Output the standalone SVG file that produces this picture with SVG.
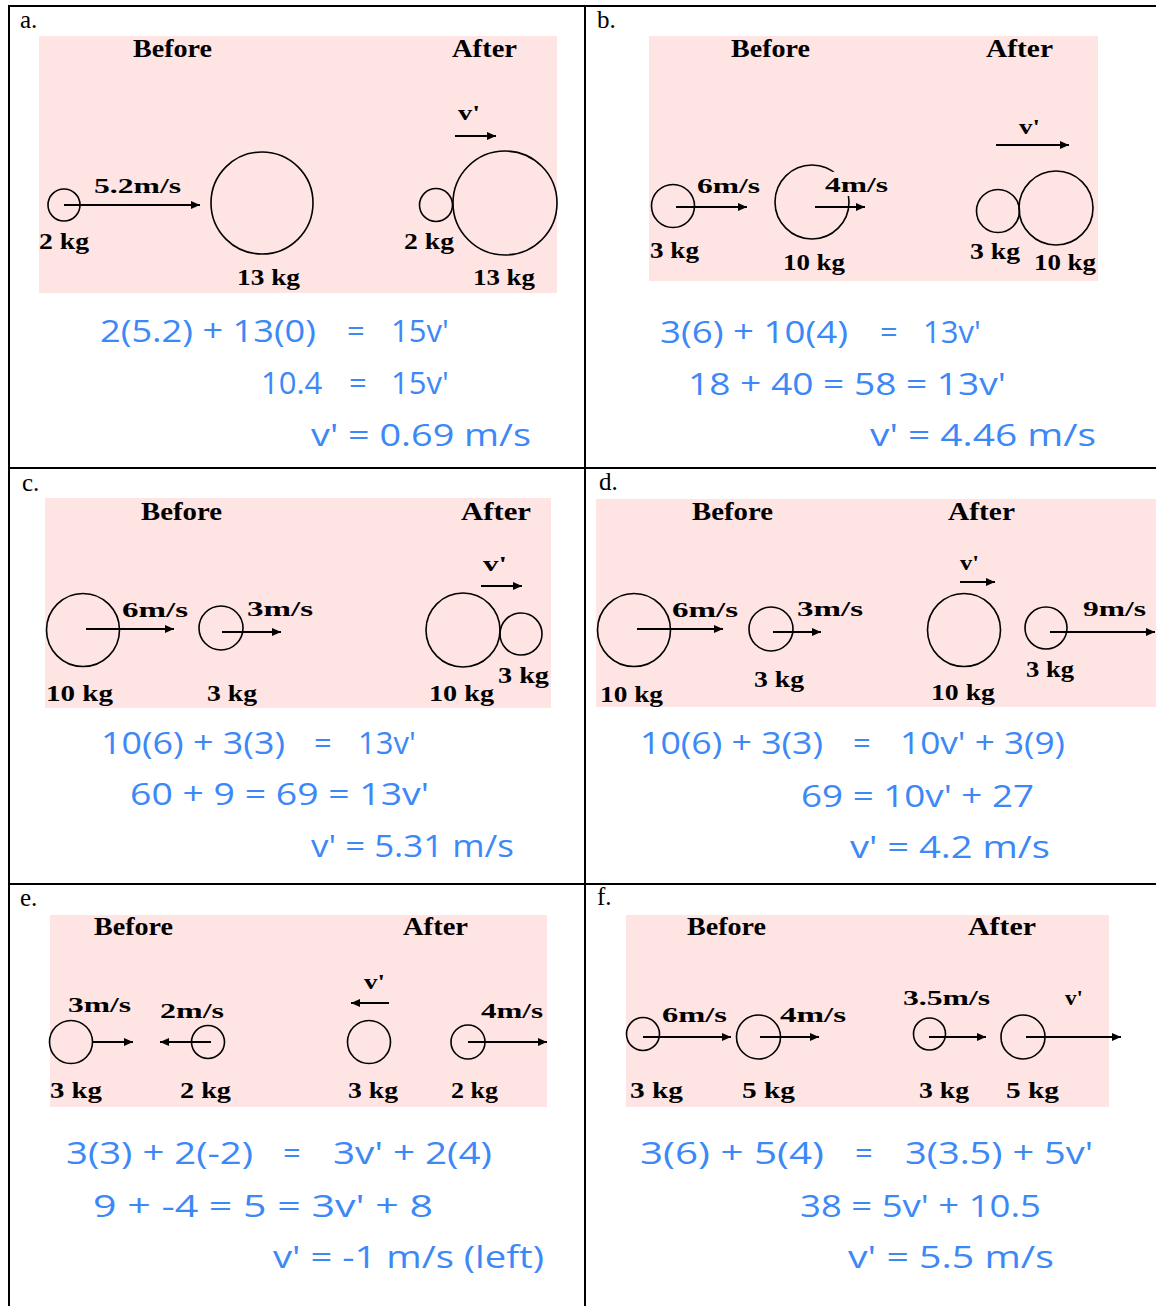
<svg xmlns="http://www.w3.org/2000/svg" width="1156" height="1306" viewBox="0 0 1156 1306">
<style>
.bg{fill:#ffe4e4}
.grid{stroke:#000;stroke-width:2;fill:none}
.ball{fill:none;stroke:#000;stroke-width:1.6}
.arr{stroke:#000;stroke-width:2;fill:none;marker-end:url(#ah)}
.lab{font-family:"Liberation Serif","DejaVu Serif",serif;font-size:25px;fill:#000}
.hd{font-family:"Liberation Serif","DejaVu Serif",serif;font-weight:bold;font-size:26px;fill:#000}
.kg{font-family:"Liberation Serif","DejaVu Serif",serif;font-weight:bold;font-size:24px;fill:#000}
.vel{font-family:"Liberation Serif","DejaVu Serif",serif;font-weight:bold;font-size:22px;fill:#000}
.eq{font-family:"Open Sans","Lato",sans-serif;font-weight:400;font-size:31px;fill:#3d88f7}
</style>
<defs>
<marker id="ah" markerWidth="10" markerHeight="10" refX="9" refY="4" orient="auto" markerUnits="userSpaceOnUse"><path d="M0,0 L9,4 L0,8 z" fill="#000"/></marker>
</defs>
<rect width="1156" height="1306" fill="#fff"/>
<g id="table" class="grid">
<line x1="9" y1="6" x2="1156" y2="6"/>
<line x1="9" y1="5" x2="9" y2="1306"/>
<line x1="585" y1="5" x2="585" y2="1306"/>
<line x1="9" y1="468" x2="1156" y2="468"/>
<line x1="9" y1="884" x2="1156" y2="884"/>
</g>

<!-- Panel a -->
<g id="panel-a">
<rect class="bg" x="39" y="36" width="518" height="257"/>
<text class="lab" x="20" y="28">a.</text>
<text class="hd" x="133" y="57" textLength="79" lengthAdjust="spacingAndGlyphs">Before</text>
<text class="hd" x="452" y="57" textLength="65" lengthAdjust="spacingAndGlyphs">After</text>
<g id="a-m1"><circle class="ball" cx="64" cy="205" r="16"/><text class="kg" x="39" y="249" textLength="50" lengthAdjust="spacingAndGlyphs">2 kg</text></g>
<g id="a-m2"><circle class="ball" cx="262" cy="203" r="51"/><text class="kg" x="237" y="285" textLength="63" lengthAdjust="spacingAndGlyphs">13 kg</text></g>
<text class="vel" x="94" y="193" textLength="87" lengthAdjust="spacingAndGlyphs">5.2m/s</text>
<g id="a-m1-after"><circle class="ball" cx="436" cy="205" r="16.5"/><text class="kg" x="404" y="249" textLength="50" lengthAdjust="spacingAndGlyphs">2 kg</text></g>
<g id="a-m2-after"><circle class="ball" cx="505" cy="203" r="52"/><text class="kg" x="473" y="285" textLength="62" lengthAdjust="spacingAndGlyphs">13 kg</text></g>
<text class="vel" x="458" y="120" textLength="22" lengthAdjust="spacingAndGlyphs">v'</text>
<g id="a-eq">
<text class="eq" x="100" y="342" textLength="216" lengthAdjust="spacingAndGlyphs">2(5.2) + 13(0)</text>
<text class="eq" x="347" y="342">=</text>
<text class="eq" x="391" y="342">15v'</text>
<text class="eq" x="261" y="394">10.4</text>
<text class="eq" x="349" y="394">=</text>
<text class="eq" x="391" y="394">15v'</text>
<text class="eq" x="311" y="446" textLength="220" lengthAdjust="spacingAndGlyphs">v' = 0.69 m/s</text>
</g>
</g>

<!-- Panel b -->
<g id="panel-b">
<rect class="bg" x="649" y="36" width="449" height="245"/>
<text class="lab" x="597" y="28">b.</text>
<text class="hd" x="731" y="57" textLength="79" lengthAdjust="spacingAndGlyphs">Before</text>
<text class="hd" x="986" y="57" textLength="67" lengthAdjust="spacingAndGlyphs">After</text>
<g id="b-m1"><circle class="ball" cx="673" cy="206" r="21.5"/><text class="kg" x="650" y="258" textLength="49" lengthAdjust="spacingAndGlyphs">3 kg</text></g>
<g id="b-m2"><circle class="ball" cx="812" cy="202" r="37"/><text class="kg" x="783" y="270" textLength="62" lengthAdjust="spacingAndGlyphs">10 kg</text></g>
<text class="vel" x="697" y="193" textLength="63" lengthAdjust="spacingAndGlyphs">6m/s</text>
<rect class="bg" x="822" y="172" width="68" height="24"/>
<text class="vel" x="825" y="192" textLength="63" lengthAdjust="spacingAndGlyphs">4m/s</text>
<g id="b-m1-after"><circle class="ball" cx="998" cy="211" r="21.5"/><text class="kg" x="970" y="259" textLength="50" lengthAdjust="spacingAndGlyphs">3 kg</text></g>
<g id="b-m2-after"><circle class="ball" cx="1056" cy="208" r="37"/><text class="kg" x="1034" y="270" textLength="62" lengthAdjust="spacingAndGlyphs">10 kg</text></g>
<text class="vel" x="1019" y="134" textLength="21" lengthAdjust="spacingAndGlyphs">v'</text>
<g id="b-eq">
<text class="eq" x="660" y="343" textLength="188" lengthAdjust="spacingAndGlyphs">3(6) + 10(4)</text>
<text class="eq" x="880" y="343">=</text>
<text class="eq" x="923" y="343">13v'</text>
<text class="eq" x="688" y="395" textLength="318" lengthAdjust="spacingAndGlyphs">18 + 40 = 58 = 13v'</text>
<text class="eq" x="870" y="446" textLength="226" lengthAdjust="spacingAndGlyphs">v' = 4.46 m/s</text>
</g>
</g>

<!-- Panel c -->
<g id="panel-c">
<rect class="bg" x="45" y="498" width="506" height="210"/>
<text class="lab" x="22" y="491">c.</text>
<text class="hd" x="141" y="520" textLength="81" lengthAdjust="spacingAndGlyphs">Before</text>
<text class="hd" x="461" y="520" textLength="70" lengthAdjust="spacingAndGlyphs">After</text>
<g id="c-m1"><circle class="ball" cx="83" cy="630" r="36.5"/><text class="kg" x="46" y="701" textLength="67" lengthAdjust="spacingAndGlyphs">10 kg</text></g>
<g id="c-m2"><circle class="ball" cx="221" cy="628" r="22"/><text class="kg" x="207" y="701" textLength="50" lengthAdjust="spacingAndGlyphs">3 kg</text></g>
<text class="vel" x="122" y="617" textLength="66" lengthAdjust="spacingAndGlyphs">6m/s</text>
<text class="vel" x="247" y="616" textLength="66" lengthAdjust="spacingAndGlyphs">3m/s</text>
<g id="c-m1-after"><circle class="ball" cx="463" cy="630" r="37"/><text class="kg" x="429" y="701" textLength="65" lengthAdjust="spacingAndGlyphs">10 kg</text></g>
<g id="c-m2-after"><circle class="ball" cx="521" cy="634" r="21"/><text class="kg" x="498" y="683" textLength="51" lengthAdjust="spacingAndGlyphs">3 kg</text></g>
<text class="vel" x="483" y="571" textLength="24" lengthAdjust="spacingAndGlyphs">v'</text>
<g id="c-eq">
<text class="eq" x="101" y="754" textLength="184" lengthAdjust="spacingAndGlyphs">10(6) + 3(3)</text>
<text class="eq" x="314" y="754">=</text>
<text class="eq" x="358" y="754">13v'</text>
<text class="eq" x="130" y="805" textLength="299" lengthAdjust="spacingAndGlyphs">60 + 9 = 69 = 13v'</text>
<text class="eq" x="311" y="857" textLength="203" lengthAdjust="spacingAndGlyphs">v' = 5.31 m/s</text>
</g>
</g>

<!-- Panel d -->
<g id="panel-d">
<rect class="bg" x="596" y="499" width="560" height="208"/>
<text class="lab" x="599" y="490">d.</text>
<text class="hd" x="692" y="520" textLength="81" lengthAdjust="spacingAndGlyphs">Before</text>
<text class="hd" x="948" y="520" textLength="67" lengthAdjust="spacingAndGlyphs">After</text>
<g id="d-m1"><circle class="ball" cx="634" cy="630" r="36.5"/><text class="kg" x="600" y="702" textLength="63" lengthAdjust="spacingAndGlyphs">10 kg</text></g>
<g id="d-m2"><circle class="ball" cx="771" cy="629" r="22"/><text class="kg" x="754" y="687" textLength="50" lengthAdjust="spacingAndGlyphs">3 kg</text></g>
<text class="vel" x="672" y="617" textLength="66" lengthAdjust="spacingAndGlyphs">6m/s</text>
<text class="vel" x="797" y="616" textLength="66" lengthAdjust="spacingAndGlyphs">3m/s</text>
<g id="d-m1-after"><circle class="ball" cx="964" cy="630" r="36.5"/><text class="kg" x="931" y="700" textLength="64" lengthAdjust="spacingAndGlyphs">10 kg</text></g>
<g id="d-m2-after"><circle class="ball" cx="1046" cy="628" r="21"/><text class="kg" x="1026" y="677" textLength="48" lengthAdjust="spacingAndGlyphs">3 kg</text></g>
<text class="vel" x="960" y="570" textLength="19" lengthAdjust="spacingAndGlyphs">v'</text>
<text class="vel" x="1083" y="616" textLength="63" lengthAdjust="spacingAndGlyphs">9m/s</text>
<g id="d-eq">
<text class="eq" x="640" y="754" textLength="183" lengthAdjust="spacingAndGlyphs">10(6) + 3(3)</text>
<text class="eq" x="853" y="754">=</text>
<text class="eq" x="900" y="754" textLength="165" lengthAdjust="spacingAndGlyphs">10v' + 3(9)</text>
<text class="eq" x="801" y="807" textLength="233" lengthAdjust="spacingAndGlyphs">69 = 10v' + 27</text>
<text class="eq" x="850" y="858" textLength="200" lengthAdjust="spacingAndGlyphs">v' = 4.2 m/s</text>
</g>
</g>

<!-- Panel e -->
<g id="panel-e">
<rect class="bg" x="50" y="915" width="497" height="192"/>
<text class="lab" x="20" y="906">e.</text>
<text class="hd" x="94" y="935" textLength="79" lengthAdjust="spacingAndGlyphs">Before</text>
<text class="hd" x="403" y="935" textLength="65" lengthAdjust="spacingAndGlyphs">After</text>
<g id="e-m1"><circle class="ball" cx="71" cy="1042" r="21.5"/><text class="kg" x="50" y="1098" textLength="52" lengthAdjust="spacingAndGlyphs">3 kg</text></g>
<g id="e-m2"><circle class="ball" cx="208" cy="1042" r="16.5"/><text class="kg" x="180" y="1098" textLength="51" lengthAdjust="spacingAndGlyphs">2 kg</text></g>
<text class="vel" x="68" y="1012" textLength="63" lengthAdjust="spacingAndGlyphs">3m/s</text>
<text class="vel" x="160" y="1018" textLength="64" lengthAdjust="spacingAndGlyphs">2m/s</text>
<g id="e-m1-after"><circle class="ball" cx="369" cy="1042" r="21.5"/><text class="kg" x="348" y="1098" textLength="50" lengthAdjust="spacingAndGlyphs">3 kg</text></g>
<g id="e-m2-after"><circle class="ball" cx="468" cy="1042" r="17"/><text class="kg" x="451" y="1098" textLength="47" lengthAdjust="spacingAndGlyphs">2 kg</text></g>
<text class="vel" x="364" y="989" textLength="21" lengthAdjust="spacingAndGlyphs">v'</text>
<text class="vel" x="481" y="1018" textLength="62" lengthAdjust="spacingAndGlyphs">4m/s</text>
<g id="e-eq">
<text class="eq" x="66" y="1164" textLength="187" lengthAdjust="spacingAndGlyphs">3(3) + 2(-2)</text>
<text class="eq" x="283" y="1164">=</text>
<text class="eq" x="333" y="1164" textLength="159" lengthAdjust="spacingAndGlyphs">3v' + 2(4)</text>
<text class="eq" x="93" y="1217" textLength="340" lengthAdjust="spacingAndGlyphs">9 + -4 = 5 = 3v' + 8</text>
<text class="eq" x="273" y="1268" textLength="271" lengthAdjust="spacingAndGlyphs">v' = -1 m/s (left)</text>
</g>
</g>

<!-- Panel f -->
<g id="panel-f">
<rect class="bg" x="626" y="915" width="483" height="192"/>
<text class="lab" x="597" y="905">f.</text>
<text class="hd" x="687" y="935" textLength="79" lengthAdjust="spacingAndGlyphs">Before</text>
<text class="hd" x="968" y="935" textLength="68" lengthAdjust="spacingAndGlyphs">After</text>
<g id="f-m1"><circle class="ball" cx="643" cy="1034" r="16.5"/><text class="kg" x="630" y="1098" textLength="53" lengthAdjust="spacingAndGlyphs">3 kg</text></g>
<g id="f-m2"><circle class="ball" cx="758.5" cy="1037" r="22"/><text class="kg" x="742" y="1098" textLength="53" lengthAdjust="spacingAndGlyphs">5 kg</text></g>
<text class="vel" x="662" y="1022" textLength="65" lengthAdjust="spacingAndGlyphs">6m/s</text>
<text class="vel" x="780" y="1022" textLength="66" lengthAdjust="spacingAndGlyphs">4m/s</text>
<g id="f-m1-after"><circle class="ball" cx="929.5" cy="1034" r="16"/><text class="kg" x="919" y="1098" textLength="50" lengthAdjust="spacingAndGlyphs">3 kg</text></g>
<g id="f-m2-after"><circle class="ball" cx="1023" cy="1037" r="22"/><text class="kg" x="1006" y="1098" textLength="53" lengthAdjust="spacingAndGlyphs">5 kg</text></g>
<text class="vel" x="903" y="1005" textLength="87" lengthAdjust="spacingAndGlyphs">3.5m/s</text>
<text class="vel" x="1065" y="1005" textLength="18" lengthAdjust="spacingAndGlyphs">v'</text>
<g id="f-eq">
<text class="eq" x="640" y="1164" textLength="184" lengthAdjust="spacingAndGlyphs">3(6) + 5(4)</text>
<text class="eq" x="855" y="1164">=</text>
<text class="eq" x="905" y="1164" textLength="188" lengthAdjust="spacingAndGlyphs">3(3.5) + 5v'</text>
<text class="eq" x="800" y="1217" textLength="241" lengthAdjust="spacingAndGlyphs">38 = 5v' + 10.5</text>
<text class="eq" x="848" y="1268" textLength="206" lengthAdjust="spacingAndGlyphs">v' = 5.5 m/s</text>
</g>
</g>

<g id="connectors">
<line class="arr" x1="64" y1="205" x2="200" y2="205"/>
<line class="arr" x1="455" y1="136" x2="496" y2="136"/>
<line class="arr" x1="676" y1="207" x2="747" y2="207"/>
<line class="arr" x1="815" y1="207" x2="865" y2="207"/>
<line class="arr" x1="996" y1="145" x2="1069" y2="145"/>
<line class="arr" x1="86" y1="629" x2="174" y2="629"/>
<line class="arr" x1="222" y1="632" x2="281" y2="632"/>
<line class="arr" x1="481" y1="586" x2="522" y2="586"/>
<line class="arr" x1="637" y1="629" x2="723" y2="629"/>
<line class="arr" x1="773" y1="632" x2="821" y2="632"/>
<line class="arr" x1="960" y1="582" x2="995" y2="582"/>
<line class="arr" x1="1050" y1="632" x2="1155" y2="632"/>
<line class="arr" x1="92.5" y1="1042" x2="133" y2="1042"/>
<line class="arr" x1="211" y1="1042" x2="160" y2="1042"/>
<line class="arr" x1="389" y1="1003" x2="351" y2="1003"/>
<line class="arr" x1="468" y1="1042" x2="547" y2="1042"/>
<line class="arr" x1="643" y1="1037" x2="731" y2="1037"/>
<line class="arr" x1="760" y1="1037" x2="819" y2="1037"/>
<line class="arr" x1="929" y1="1037" x2="986" y2="1037"/>
<line class="arr" x1="1026" y1="1037" x2="1121" y2="1037"/>
</g>
</svg>
